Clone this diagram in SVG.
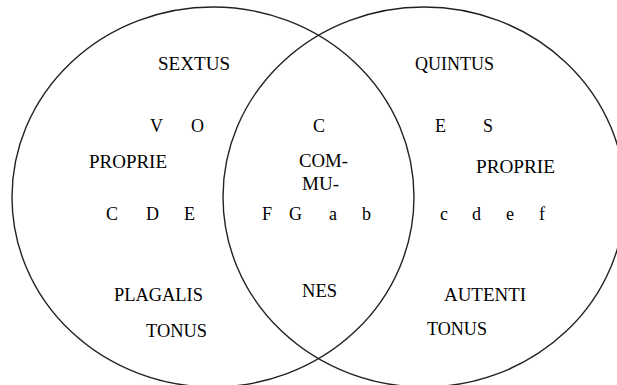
<svg xmlns="http://www.w3.org/2000/svg" width="617" height="385" viewBox="0 0 617 385">
<style>
.ring{fill:none;stroke:#222;stroke-width:1.4}
.t{font-family:"Liberation Serif","Times New Roman",serif;font-size:18px;fill:#000}
</style>
<rect width="617" height="385" fill="#fff"/>
<g id="circles">
<ellipse id="left-circle" class="ring" cx="213" cy="197" rx="201" ry="190"/>
<ellipse id="right-circle" class="ring" cx="424" cy="197" rx="201" ry="190"/>
</g>
<g id="left-texts">
<text class="t" x="158" y="70" textLength="72" lengthAdjust="spacingAndGlyphs">SEXTUS</text>
<text class="t" y="132"><tspan x="150">V</tspan> <tspan x="191">O</tspan></text>
<text class="t" x="89" y="168" textLength="78" lengthAdjust="spacingAndGlyphs">PROPRIE</text>
<text class="t" y="220"><tspan x="106">C</tspan> <tspan x="146">D</tspan> <tspan x="184">E</tspan></text>
<text class="t" x="114" y="301" textLength="89" lengthAdjust="spacingAndGlyphs">PLAGALIS</text>
<text class="t" x="146" y="337" textLength="61" lengthAdjust="spacingAndGlyphs">TONUS</text>
</g>
<g id="middle-texts">
<text class="t" x="313" y="132">C</text>
<text class="t" x="299" y="167" textLength="49" lengthAdjust="spacingAndGlyphs">COM-</text>
<text class="t" x="302" y="190" textLength="37" lengthAdjust="spacingAndGlyphs">MU-</text>
<text class="t" y="220"><tspan x="262">F</tspan> <tspan x="289">G</tspan> <tspan x="329">a</tspan> <tspan x="362">b</tspan></text>
<text class="t" x="302" y="297" textLength="35" lengthAdjust="spacingAndGlyphs">NES</text>
</g>
<g id="right-texts">
<text class="t" x="415" y="70" textLength="79" lengthAdjust="spacingAndGlyphs">QUINTUS</text>
<text class="t" y="132"><tspan x="435">E</tspan> <tspan x="483">S</tspan></text>
<text class="t" x="476" y="173" textLength="79" lengthAdjust="spacingAndGlyphs">PROPRIE</text>
<text class="t" y="220"><tspan x="440">c</tspan> <tspan x="472">d</tspan> <tspan x="506">e</tspan> <tspan x="539">f</tspan></text>
<text class="t" x="444" y="301" textLength="82" lengthAdjust="spacingAndGlyphs">AUTENTI</text>
<text class="t" x="427" y="335" textLength="60" lengthAdjust="spacingAndGlyphs">TONUS</text>
</g>
</svg>
